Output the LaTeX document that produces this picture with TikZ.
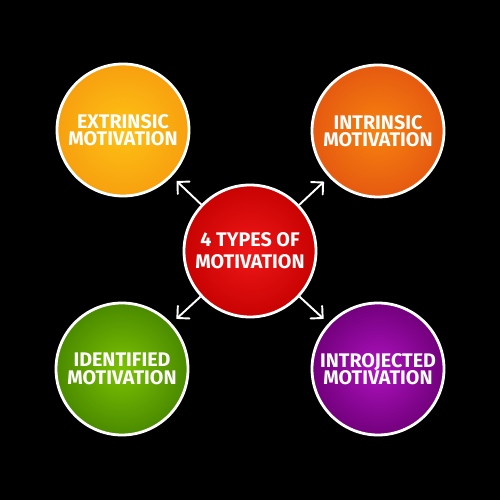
\documentclass[tikz,border=0pt]{standalone}
\usepackage{fontspec}
\setmainfont{Fira Sans}
\usetikzlibrary{arrows.meta}

\definecolor{extrIn}{HTML}{FEC214}
\definecolor{extrOut}{HTML}{F7A00F}
\definecolor{intrIn}{HTML}{F8820F}
\definecolor{intrOut}{HTML}{E55A10}
\definecolor{mainIn}{HTML}{F01818}
\definecolor{mainOut}{HTML}{C80202}
\definecolor{idenIn}{HTML}{7CC202}
\definecolor{idenOut}{HTML}{4A8A00}
\definecolor{introIn}{HTML}{AE12BE}
\definecolor{introOut}{HTML}{72007C}

\begin{document}
\begin{tikzpicture}[
    bubble/.style={circle, draw=white, line width=1.6pt, minimum size=2.64cm,
      inner sep=0pt, align=center, text=white,
      font=\bfseries\fontsize{11.2}{9.9}\selectfont},
    pointer/.style={draw=white, line width=1.1pt,
      -{Straight Barb[length=0.17cm,width=0.34cm,line cap=round]},
      shorten >=0.13cm}
  ]
  \fill[black] (0,0) rectangle (10,10);

  \node[bubble, inner color=mainIn, outer color=mainOut,
    font=\bfseries\fontsize{11.2}{12.4}\selectfont] (main) at (5,4.98)
    {4 TYPES OF\\MOTIVATION};

  \node[bubble, inner color=extrIn, outer color=extrOut] (extr) at (2.46,7.4)
    {EXTRINSIC\\MOTIVATION};
  \node[bubble, inner color=intrIn, outer color=intrOut] (intr) at (7.56,7.38)
    {INTRINSIC\\MOTIVATION};
  \node[bubble, inner color=idenIn, outer color=idenOut] (iden) at (2.44,2.62)
    {IDENTIFIED\\MOTIVATION};
  \node[bubble, inner color=introIn, outer color=introOut] (intro) at (7.56,2.62)
    {INTROJECTED\\MOTIVATION};

  % arrows out of the middle
  \draw[pointer] (main) -- (extr);
  \draw[pointer] (main) -- (intr);
  \draw[pointer] (main) -- (iden);
  \draw[pointer] (main) -- (intro);
\end{tikzpicture}
\end{document}
